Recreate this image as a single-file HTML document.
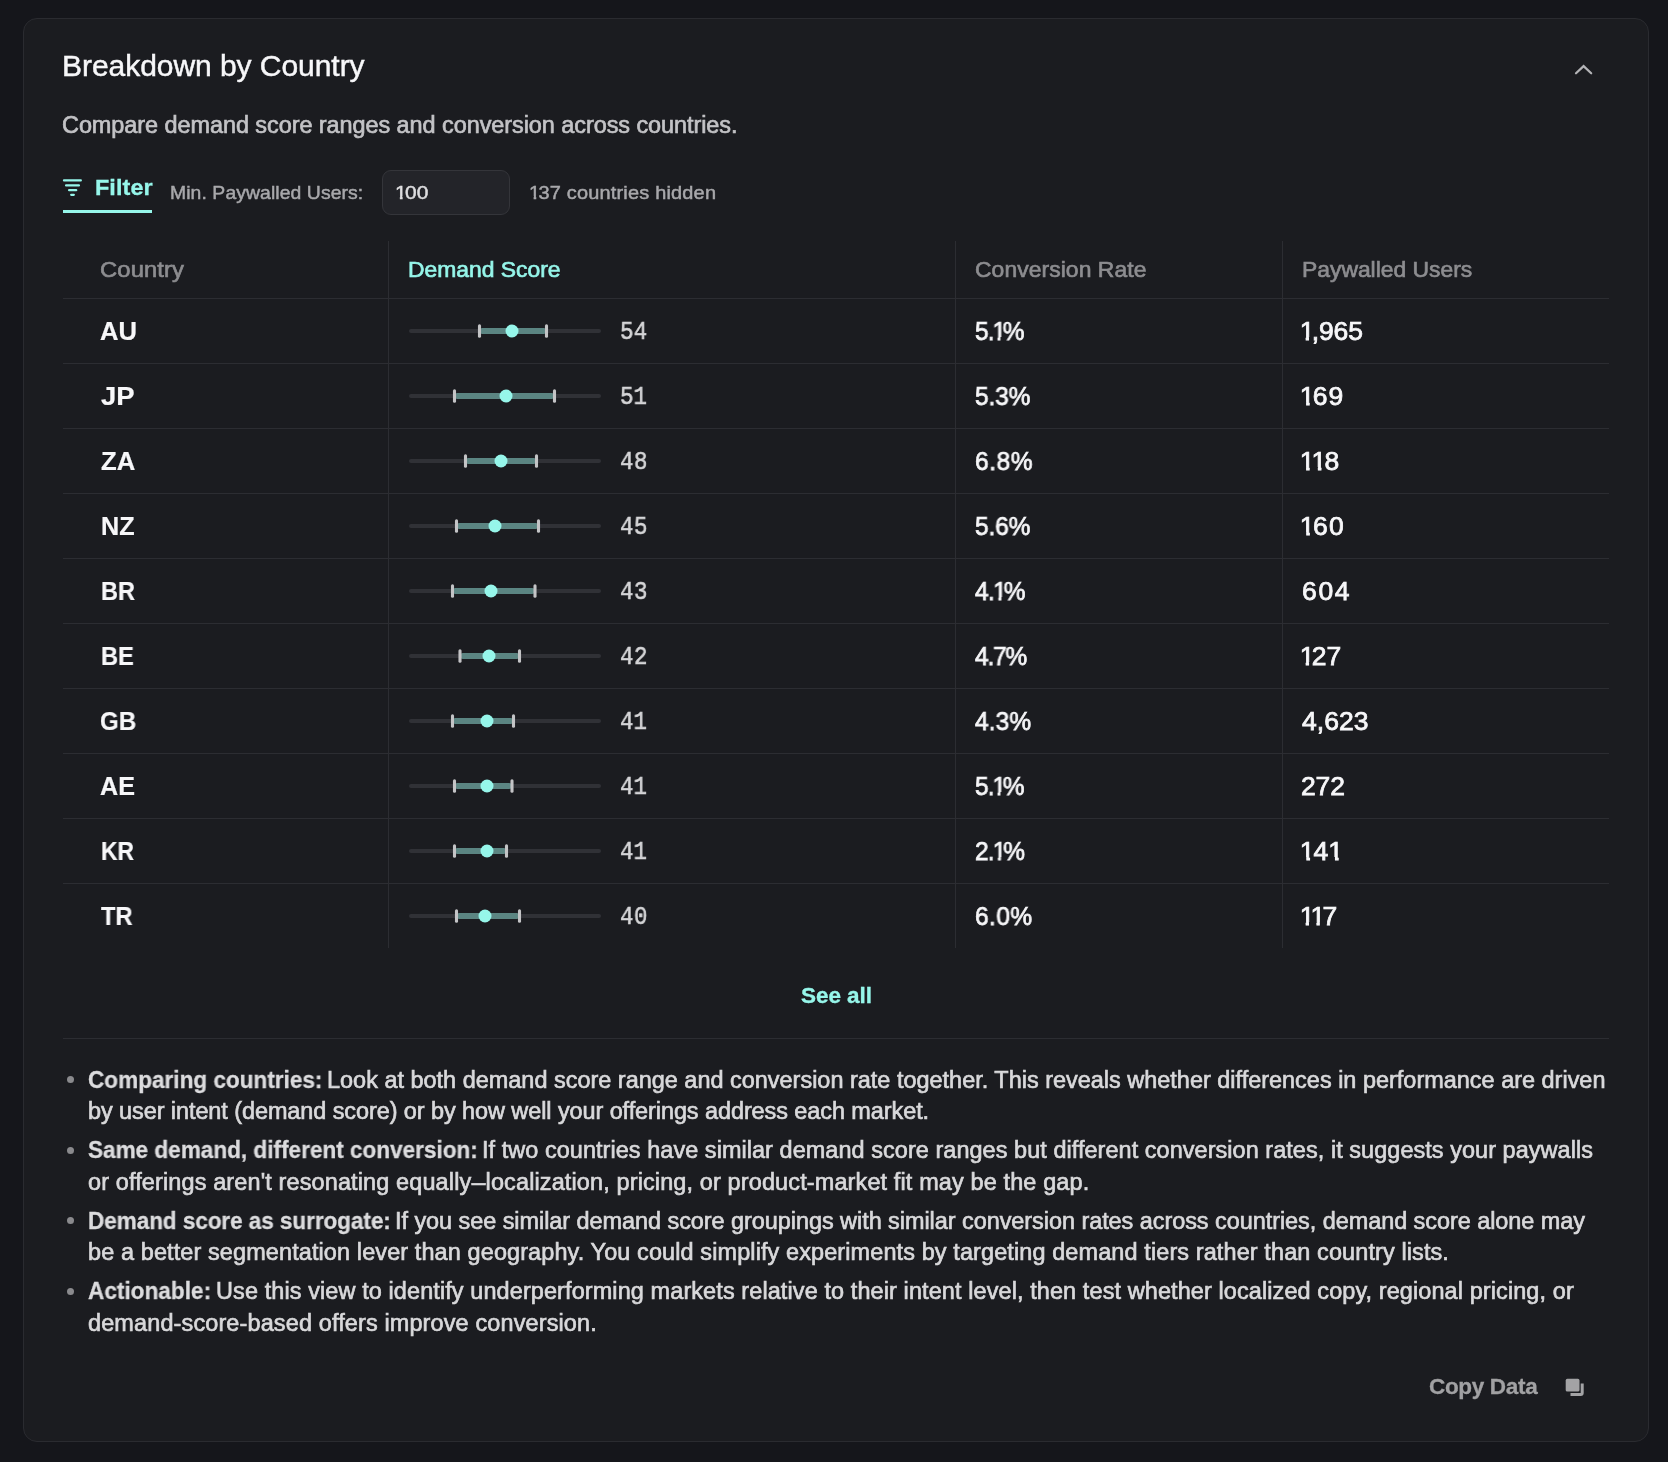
<!DOCTYPE html><html lang="en"><head><meta charset="utf-8"><title>Breakdown by Country</title><style>
*{box-sizing:border-box;margin:0;padding:0}
html,body{width:1668px;height:1462px;overflow:hidden;background:#15161b}
body{font-family:"Liberation Sans",sans-serif;color:#f4f4f6;position:relative}
.card{position:absolute;left:23px;top:18px;width:1626px;height:1424px;border:1px solid #2a2b30;border-radius:14px;background:#1b1c20}
.t{position:absolute;white-space:nowrap;line-height:1;transform-origin:0 50%;will-change:transform;-webkit-text-stroke:0.65px currentColor}
.f{display:inline-block;white-space:nowrap;transform-origin:0 50%;will-change:transform;-webkit-text-stroke:0.65px currentColor}
.title{left:63px;top:51.2px;font-size:29px;color:#f7f7f9;-webkit-text-stroke:0.45px currentColor}
.sub{left:63px;top:113.8px;font-size:23px;color:#c3c3c6}
.filter{left:95px;top:176.5px;font-size:22.5px;font-weight:bold;color:#96f6ea}
.uline{position:absolute;left:63px;top:210px;width:89px;height:3px;background:#96f6ea}
.lbl{font-size:19px;color:#a8a8ab;top:182.9px}
.input{position:absolute;left:382px;top:170px;width:128px;height:45px;border:1px solid #34353a;border-radius:9px;background:#232429}
.inval{left:396px;top:182.9px;font-size:19px;color:#dedee0}
table{position:absolute;left:63px;top:241px;width:1546px;border-collapse:collapse;table-layout:fixed}
th,td{border-bottom:1px solid #2c2d32;border-left:1px solid #2c2d32;text-align:left;vertical-align:middle;position:relative;padding:0;white-space:nowrap}
th:first-child,td:first-child{border-left:none}
tr:last-child td{border-bottom:none}
th{height:57px;font-size:22px;font-weight:normal;color:#8d8d90}
td{height:65px;font-size:25px;color:#f7f7f9}
th.ds{color:#96f6ea}
.c1{padding-left:38px}
.c2{padding-left:21px}
.c3{padding-left:20px}
.c4{padding-left:19px}
td.c1{font-weight:bold}
th .f{position:relative;top:0}
td .f{position:relative;top:0;-webkit-text-stroke:0.75px currentColor}
td.c1 .f{-webkit-text-stroke:0.2px currentColor}
.num{position:absolute;left:231.5px;top:22.3px;will-change:transform;-webkit-text-stroke:0.6px currentColor;font-family:"Liberation Mono",monospace;font-size:25px;line-height:24px;color:#d6d6d8;transform-origin:0 50%}
.seeall{left:801px;top:984px;font-size:22.5px;font-weight:bold;color:#96f6ea}
.hr{position:absolute;left:63px;top:1038px;width:1546px;height:1px;background:#2c2d32}
.bl{font-size:23px;color:#d9d9db}
b.bl{color:#dcdcde}
.bd{position:absolute;left:67px;width:7px;height:7px;border-radius:50%;background:#8a8a8d}
.copy{left:1429px;top:1375.5px;font-size:22.5px;font-weight:bold;color:#a1a1a3}
svg{position:absolute;overflow:visible}
.em{display:inline-block;transform:scaleX(0.6);transform-origin:0 50%;margin-right:-0.4em}
.filter,.seeall,.copy,b.bl{-webkit-text-stroke:0.3px currentColor}
.lbl,.inval{-webkit-text-stroke:0.5px currentColor}
.o{font-style:normal;display:inline-block;margin:0 -0.095em 0 -0.05em;clip-path:polygon(0 0,100% 0,100% 69%,64% 69%,64% 100%,41% 100%,41% 69%,0 69%)}
</style></head><body>
<div class="card"></div>
<div class="t title" id="title" style="transform:scaleX(1.035);letter-spacing:-0.053px;margin-left:-0.8px;margin-top:1.0px;">Breakdown by Country</div>
<svg style="left:1570px;top:56px" width="28" height="28" viewBox="1570 56 28 28"><polyline points="1576,73.3 1583.6,66.1 1591.2,73.3" fill="none" stroke="#b4b4b7" stroke-width="2.2" stroke-linecap="round" stroke-linejoin="miter"/></svg>
<div class="t sub" id="sub" style="transform:scaleX(1.02);letter-spacing:-0.064px;margin-left:-0.8px;">Compare demand score ranges and conversion across countries.</div>
<svg style="left:60px;top:176px" width="26" height="24" viewBox="60 176 26 24"><g stroke="#96f6ea" stroke-width="2.3" stroke-linecap="round"><line x1="64" y1="180.4" x2="80.8" y2="180.4"/><line x1="66.1" y1="185.4" x2="78.9" y2="185.4"/><line x1="69.1" y1="190.2" x2="76.2" y2="190.2"/><line x1="71.2" y1="194.8" x2="73.8" y2="194.8"/></g></svg>
<div class="t filter" id="filter" style="transform:scaleX(1.04);letter-spacing:0.071px;margin-left:-0.3px;">Filter</div><div class="uline"></div>
<div class="t lbl" id="minp" style="left:171px;transform:scaleX(1.02);letter-spacing:0.074px;margin-left:-0.6px;">Min. Paywalled Users:</div>
<div class="input"></div>
<div class="t inval" id="inval" style="transform:scaleX(1.1);letter-spacing:0.264px;margin-left:-0.3px;"><i class="o">1</i>00</div>
<div class="t lbl" id="hidden" style="left:529px;transform:scaleX(1.05);letter-spacing:0.182px;margin-left:0.5px;"><i class="o">1</i>37 countries hidden</div>
<table><colgroup><col style="width:325px"><col style="width:567px"><col style="width:327px"><col style="width:327px"></colgroup>
<tr><th class="c1"><span class="f" id="h1" style="transform:scaleX(1.08);letter-spacing:0.122px;margin-left:-0.8px;top:1.0px;">Country</span></th><th class="c2 ds"><span class="f" id="h2" style="transform:scaleX(1.04);letter-spacing:-0.005px;margin-left:-1.2px;top:1.0px;">Demand Score</span></th><th class="c3"><span class="f" id="h3" style="transform:scaleX(1.04);letter-spacing:0.068px;margin-left:-0.7px;top:1.0px;">Conversion Rate</span></th><th class="c4"><span class="f" id="h4" style="transform:scaleX(1.04);letter-spacing:-0.010px;margin-left:0.2px;top:1.0px;">Paywalled Users</span></th></tr>
<tr><td class="c1"><span class="f" id="cc0" style="transform:scaleX(1.0232);margin-left:-0.6px;top:1.0px;">AU</span></td><td class="c2"><span class="num" id="n0" style="transform:scaleX(0.9);letter-spacing:0.182px;margin-left:-0.2px;">54</span></td><td class="c3"><span class="f" id="cv0" style="transform:scaleX(0.98);letter-spacing:-0.972px;margin-left:-0.1px;top:1.0px;">5.<i class="o">1</i>%</span></td><td class="c4"><span class="f" id="us0" style="transform:scaleX(1.06);letter-spacing:-0.122px;margin-left:-0.1px;top:1.0px;"><i class="o">1</i>,965</span></td></tr>
<tr><td class="c1"><span class="f" id="cc1" style="transform:scaleX(1.0966);margin-left:0.3px;top:1.0px;">JP</span></td><td class="c2"><span class="num" id="n1" style="transform:scaleX(0.9);letter-spacing:0.089px;margin-left:-0.2px;">51</span></td><td class="c3"><span class="f" id="cv1" style="transform:scaleX(0.98);letter-spacing:-0.156px;margin-left:-0.1px;top:1.0px;">5.3%</span></td><td class="c4"><span class="f" id="us1" style="transform:scaleX(1.06);letter-spacing:0.862px;margin-left:-0.1px;top:1.0px;"><i class="o">1</i>69</span></td></tr>
<tr><td class="c1"><span class="f" id="cc2" style="transform:scaleX(1.0272);margin-left:-0.4px;top:1.0px;">ZA</span></td><td class="c2"><span class="num" id="n2" style="transform:scaleX(0.9);letter-spacing:0.436px;margin-left:-0.5px;">48</span></td><td class="c3"><span class="f" id="cv2" style="transform:scaleX(0.98);letter-spacing:0.589px;margin-left:-0.5px;top:1.0px;">6.8%</span></td><td class="c4"><span class="f" id="us2" style="transform:scaleX(1.06);letter-spacing:0.830px;margin-left:-0.1px;top:1.0px;"><i class="o">1</i><i class="o">1</i>8</span></td></tr>
<tr><td class="c1"><span class="f" id="cc3" style="transform:scaleX(1.0072);top:1.0px;">NZ</span></td><td class="c2"><span class="num" id="n3" style="transform:scaleX(0.9);letter-spacing:0.543px;margin-left:-0.5px;">45</span></td><td class="c3"><span class="f" id="cv3" style="transform:scaleX(0.98);letter-spacing:-0.156px;margin-left:-0.1px;top:1.0px;">5.6%</span></td><td class="c4"><span class="f" id="us3" style="transform:scaleX(1.06);letter-spacing:1.116px;margin-left:-0.1px;top:1.0px;"><i class="o">1</i>60</span></td></tr>
<tr><td class="c1"><span class="f" id="cc4" style="transform:scaleX(0.9425);margin-left:0.3px;top:1.0px;">BR</span></td><td class="c2"><span class="num" id="n4" style="transform:scaleX(0.9);letter-spacing:0.562px;margin-left:-0.5px;">43</span></td><td class="c3"><span class="f" id="cv4" style="transform:scaleX(0.98);letter-spacing:-0.606px;margin-left:-0.2px;top:1.0px;">4.<i class="o">1</i>%</span></td><td class="c4"><span class="f" id="us4" style="transform:scaleX(1.06);letter-spacing:1.568px;margin-left:-0.0px;top:1.0px;">604</span></td></tr>
<tr><td class="c1"><span class="f" id="cc5" style="transform:scaleX(0.9466);margin-left:0.3px;top:1.0px;">BE</span></td><td class="c2"><span class="num" id="n5" style="transform:scaleX(0.9);letter-spacing:0.482px;margin-left:-0.5px;">42</span></td><td class="c3"><span class="f" id="cv5" style="transform:scaleX(0.98);letter-spacing:-1.228px;margin-left:-0.2px;top:1.0px;">4.7%</span></td><td class="c4"><span class="f" id="us5" style="transform:scaleX(1.06);letter-spacing:-0.068px;margin-left:-0.1px;top:1.0px;"><i class="o">1</i>27</span></td></tr>
<tr><td class="c1"><span class="f" id="cc6" style="transform:scaleX(0.9646);margin-left:-0.8px;top:1.0px;">GB</span></td><td class="c2"><span class="num" id="n6" style="transform:scaleX(0.9);letter-spacing:-0.005px;margin-left:-0.5px;">41</span></td><td class="c3"><span class="f" id="cv6" style="transform:scaleX(0.98);letter-spacing:0.115px;margin-left:-0.2px;top:1.0px;">4.3%</span></td><td class="c4"><span class="f" id="us6" style="transform:scaleX(1.06);letter-spacing:0.014px;margin-left:0.8px;top:1.0px;">4,623</span></td></tr>
<tr><td class="c1"><span class="f" id="cc7" style="transform:scaleX(1.0053);margin-left:-0.7px;top:1.0px;">AE</span></td><td class="c2"><span class="num" id="n7" style="transform:scaleX(0.9);letter-spacing:-0.005px;margin-left:-0.5px;">41</span></td><td class="c3"><span class="f" id="cv7" style="transform:scaleX(0.98);letter-spacing:-0.972px;margin-left:-0.1px;top:1.0px;">5.<i class="o">1</i>%</span></td><td class="c4"><span class="f" id="us7" style="transform:scaleX(1.06);letter-spacing:-0.112px;margin-left:-0.3px;top:1.0px;">272</span></td></tr>
<tr><td class="c1"><span class="f" id="cc8" style="transform:scaleX(0.9145);margin-left:0.3px;top:1.0px;">KR</span></td><td class="c2"><span class="num" id="n8" style="transform:scaleX(0.9);letter-spacing:-0.005px;margin-left:-0.5px;">41</span></td><td class="c3"><span class="f" id="cv8" style="transform:scaleX(0.98);letter-spacing:-0.799px;margin-left:-0.1px;top:1.0px;">2.<i class="o">1</i>%</span></td><td class="c4"><span class="f" id="us8" style="transform:scaleX(1.06);letter-spacing:1.398px;margin-left:-0.1px;top:1.0px;"><i class="o">1</i>4<i class="o">1</i></span></td></tr>
<tr><td class="c1"><span class="f" id="cc9" style="transform:scaleX(0.9485);margin-left:0.3px;top:1.0px;">TR</span></td><td class="c2"><span class="num" id="n9" style="transform:scaleX(0.9);letter-spacing:0.409px;margin-left:-0.5px;">40</span></td><td class="c3"><span class="f" id="cv9" style="transform:scaleX(0.98);letter-spacing:0.410px;margin-left:-0.5px;top:1.0px;">6.0%</span></td><td class="c4"><span class="f" id="us9" style="transform:scaleX(1.06);letter-spacing:-0.110px;margin-left:-0.1px;top:1.0px;"><i class="o">1</i><i class="o">1</i>7</span></td></tr>
</table>
<svg style="left:400px;top:300px" width="210" height="650" viewBox="400 300 210 650"><rect x="409" y="329" width="192" height="4" rx="2" fill="#303136"/><rect x="479.5" y="328" width="67.0" height="6" rx="3" fill="#5b8582"/><rect x="477.95" y="324.3" width="3.1" height="13.4" rx="1.5" fill="#c4c4c6"/><rect x="544.95" y="324.3" width="3.1" height="13.4" rx="1.5" fill="#c4c4c6"/><circle cx="512.0" cy="331" r="6.5" fill="#96f6ea"/><rect x="409" y="394" width="192" height="4" rx="2" fill="#303136"/><rect x="454.5" y="393" width="100.0" height="6" rx="3" fill="#5b8582"/><rect x="452.95" y="389.3" width="3.1" height="13.4" rx="1.5" fill="#c4c4c6"/><rect x="552.95" y="389.3" width="3.1" height="13.4" rx="1.5" fill="#c4c4c6"/><circle cx="506.0" cy="396" r="6.5" fill="#96f6ea"/><rect x="409" y="459" width="192" height="4" rx="2" fill="#303136"/><rect x="465.5" y="458" width="71.0" height="6" rx="3" fill="#5b8582"/><rect x="463.95" y="454.3" width="3.1" height="13.4" rx="1.5" fill="#c4c4c6"/><rect x="534.95" y="454.3" width="3.1" height="13.4" rx="1.5" fill="#c4c4c6"/><circle cx="501.0" cy="461" r="6.5" fill="#96f6ea"/><rect x="409" y="524" width="192" height="4" rx="2" fill="#303136"/><rect x="456.5" y="523" width="82.0" height="6" rx="3" fill="#5b8582"/><rect x="454.95" y="519.3" width="3.1" height="13.4" rx="1.5" fill="#c4c4c6"/><rect x="536.95" y="519.3" width="3.1" height="13.4" rx="1.5" fill="#c4c4c6"/><circle cx="495.0" cy="526" r="6.5" fill="#96f6ea"/><rect x="409" y="589" width="192" height="4" rx="2" fill="#303136"/><rect x="452.5" y="588" width="82.5" height="6" rx="3" fill="#5b8582"/><rect x="450.95" y="584.3" width="3.1" height="13.4" rx="1.5" fill="#c4c4c6"/><rect x="533.45" y="584.3" width="3.1" height="13.4" rx="1.5" fill="#c4c4c6"/><circle cx="491.0" cy="591" r="6.5" fill="#96f6ea"/><rect x="409" y="654" width="192" height="4" rx="2" fill="#303136"/><rect x="460.0" y="653" width="59.5" height="6" rx="3" fill="#5b8582"/><rect x="458.45" y="649.3" width="3.1" height="13.4" rx="1.5" fill="#c4c4c6"/><rect x="517.95" y="649.3" width="3.1" height="13.4" rx="1.5" fill="#c4c4c6"/><circle cx="489.0" cy="656" r="6.5" fill="#96f6ea"/><rect x="409" y="719" width="192" height="4" rx="2" fill="#303136"/><rect x="452.5" y="718" width="61.0" height="6" rx="3" fill="#5b8582"/><rect x="450.95" y="714.3" width="3.1" height="13.4" rx="1.5" fill="#c4c4c6"/><rect x="511.95" y="714.3" width="3.1" height="13.4" rx="1.5" fill="#c4c4c6"/><circle cx="487.0" cy="721" r="6.5" fill="#96f6ea"/><rect x="409" y="784" width="192" height="4" rx="2" fill="#303136"/><rect x="454.5" y="783" width="57.5" height="6" rx="3" fill="#5b8582"/><rect x="452.95" y="779.3" width="3.1" height="13.4" rx="1.5" fill="#c4c4c6"/><rect x="510.45" y="779.3" width="3.1" height="13.4" rx="1.5" fill="#c4c4c6"/><circle cx="487.0" cy="786" r="6.5" fill="#96f6ea"/><rect x="409" y="849" width="192" height="4" rx="2" fill="#303136"/><rect x="454.5" y="848" width="52.0" height="6" rx="3" fill="#5b8582"/><rect x="452.95" y="844.3" width="3.1" height="13.4" rx="1.5" fill="#c4c4c6"/><rect x="504.95" y="844.3" width="3.1" height="13.4" rx="1.5" fill="#c4c4c6"/><circle cx="487.0" cy="851" r="6.5" fill="#96f6ea"/><rect x="409" y="914" width="192" height="4" rx="2" fill="#303136"/><rect x="456.5" y="913" width="63.0" height="6" rx="3" fill="#5b8582"/><rect x="454.95" y="909.3" width="3.1" height="13.4" rx="1.5" fill="#c4c4c6"/><rect x="517.95" y="909.3" width="3.1" height="13.4" rx="1.5" fill="#c4c4c6"/><circle cx="485.0" cy="916" r="6.5" fill="#96f6ea"/></svg>
<div class="t seeall" id="seeall" style="transform:scaleX(1.0);letter-spacing:-0.058px;margin-left:-0.2px;margin-top:1.0px;">See all</div>
<div class="hr"></div>
<div class="bd" style="top:1076.3px"></div>
<b class="t bl" id="b0b" style="left:88px;top:1067.5px;transform:scaleX(0.98);letter-spacing:0.014px;margin-left:0.0px;margin-top:1.0px;">Comparing countries:</b>
<span class="t bl" id="b0r" style="left:328px;top:1067.5px;transform:scaleX(1.02);margin-left:-0.9px;margin-top:1.0px;">Look at both demand score range and conversion rate together. This reveals whether differences in performance are driven</span>
<span class="t bl" id="b1r" style="left:88px;top:1099.0px;transform:scaleX(1.02);letter-spacing:-0.075px;margin-left:0.4px;margin-top:1.0px;">by user intent (demand score) or by how well your offerings address each market.</span>
<div class="bd" style="top:1146.8px"></div>
<b class="t bl" id="b2b" style="left:88px;top:1138.0px;transform:scaleX(0.98);letter-spacing:0.008px;margin-left:0.0px;margin-top:1.0px;">Same demand, different conversion:</b>
<span class="t bl" id="b2r" style="left:484px;top:1138.0px;transform:scaleX(1.02);letter-spacing:0.052px;margin-left:-1.6px;margin-top:1.0px;">If two countries have similar demand score ranges but different conversion rates, it suggests your paywalls</span>
<span class="t bl" id="b3r" style="left:88px;top:1169.5px;transform:scaleX(1.02);letter-spacing:0.129px;margin-left:0.3px;margin-top:1.0px;">or offerings aren't resonating equally<span class="em">—</span>localization, pricing, or product-market fit may be the gap.</span>
<div class="bd" style="top:1217.3px"></div>
<b class="t bl" id="b4b" style="left:88px;top:1208.5px;transform:scaleX(0.98);letter-spacing:-0.064px;margin-top:1.0px;">Demand score as surrogate:</b>
<span class="t bl" id="b4r" style="left:397px;top:1208.5px;transform:scaleX(1.02);letter-spacing:-0.050px;margin-left:-1.8px;margin-top:1.0px;">If you see similar demand score groupings with similar conversion rates across countries, demand score alone may</span>
<span class="t bl" id="b5r" style="left:88px;top:1240.0px;transform:scaleX(1.02);letter-spacing:0.108px;margin-left:0.4px;margin-top:1.0px;">be a better segmentation lever than geography. You could simplify experiments by targeting demand tiers rather than country lists.</span>
<div class="bd" style="top:1287.8px"></div>
<b class="t bl" id="b6b" style="left:88px;top:1279.0px;transform:scaleX(0.98);letter-spacing:0.032px;margin-left:0.3px;margin-top:1.0px;">Actionable:</b>
<span class="t bl" id="b6r" style="left:216px;top:1279.0px;transform:scaleX(1.02);letter-spacing:0.100px;margin-left:0.2px;margin-top:1.0px;">Use this view to identify underperforming markets relative to their intent level, then test whether localized copy, regional pricing, or</span>
<span class="t bl" id="b7r" style="left:88px;top:1310.5px;transform:scaleX(1.02);letter-spacing:0.130px;margin-left:0.1px;margin-top:1.0px;">demand-score-based offers improve conversion.</span>
<div class="t copy" id="copy" style="transform:scaleX(1.0);letter-spacing:-0.326px;margin-left:0.2px;">Copy Data</div>
<svg style="left:1562px;top:1375px" width="26" height="26" viewBox="1562 1375 26 26"><rect x="1565.7" y="1378.8" width="13.8" height="12.7" rx="1.6" fill="#a3a3a5"/><path d="M1582.2 1383.4 V1393 Q1582.2 1394.5 1580.7 1394.5 H1570.5" fill="none" stroke="#a3a3a5" stroke-width="3"/></svg>
</body></html>
